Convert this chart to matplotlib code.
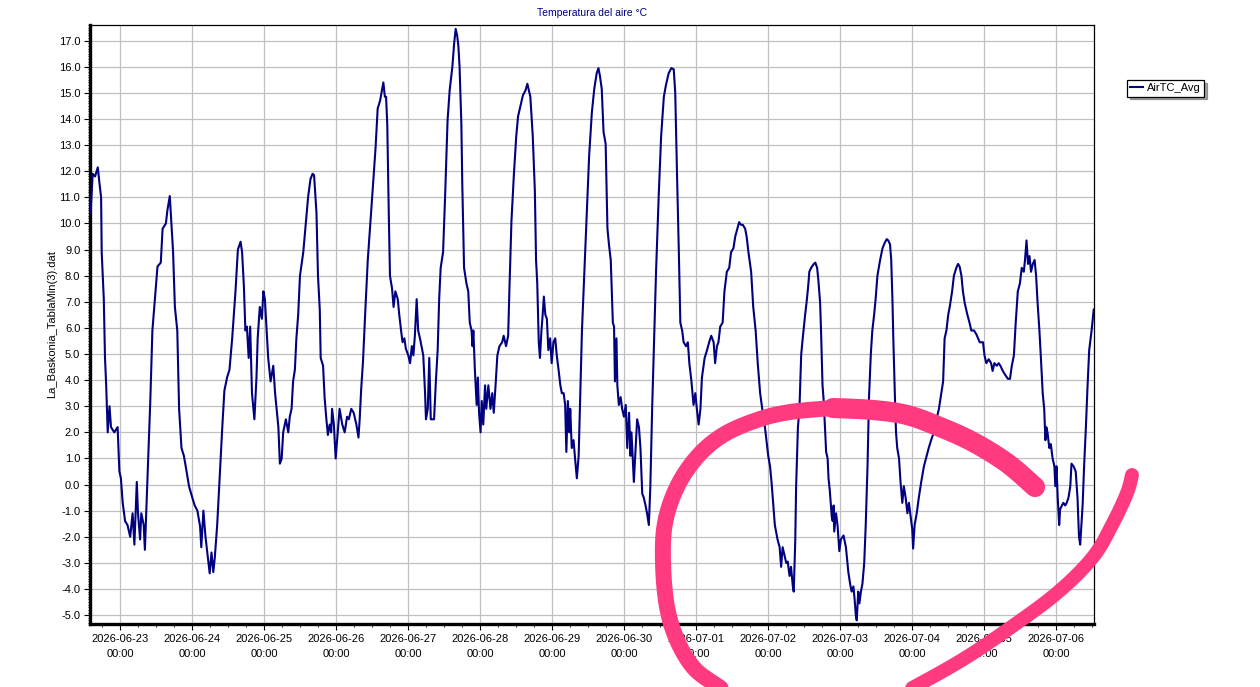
import numpy as np
import pandas as pd
import matplotlib
matplotlib.use("Agg")
import matplotlib.pyplot as plt
import matplotlib.dates as mdates
from matplotlib.ticker import MultipleLocator, FormatStrFormatter
from matplotlib.lines import Line2D

plt.rcParams['font.family'] = ['Liberation Sans', 'DejaVu Sans']

# hours after 2026-06-23 00:00 and air temperature (°C)
start = pd.Timestamp("2026-06-23 00:00")
hours = [
    -9.8, -9.1, -8.3, -7.4, -6.9, -6.3, -6.1, -5.4, -5.0, -4.6, -4.1, -3.5, -3.0, -1.9, -0.8, -0.2,
    0.3, 0.9, 1.7, 2.5, 3.4, 4.2, 4.8, 5.6, 6.0, 6.7, 7.1, 7.9, 8.3, 9.0, 9.4, 10.1,
    10.8, 11.7, 12.5, 13.6, 14.2, 15.3, 15.8, 16.6, 17.1, 17.7, 18.3, 19.1, 19.7, 20.5, 21.3, 22.2,
    23.0, 24.1, 24.9, 25.8, 26.7, 27.1, 27.8, 28.5, 29.3, 29.9, 30.5, 31.1, 31.6, 32.4, 33.2, 34.1,
    34.8, 35.7, 36.5, 37.4, 38.5, 39.3, 40.2, 40.7, 41.3, 41.8, 42.3, 42.9, 43.4, 44.0, 44.8, 45.5,
    45.9, 46.6, 47.3, 47.8, 48.3, 48.9, 49.4, 50.2, 51.1, 51.7, 52.2, 52.8, 53.3, 53.9, 54.4, 55.3,
    56.1, 56.6, 57.2, 57.7, 58.3, 58.8, 59.4, 60.0, 60.5, 61.1, 62.0, 62.7, 63.5, 64.2, 64.7, 65.5,
    66.0, 66.6, 66.9, 67.7, 68.2, 68.8, 69.3, 69.9, 70.4, 70.7, 71.3, 71.9, 72.7, 73.2, 74.1, 74.9,
    75.7, 76.3, 77.1, 77.9, 78.8, 79.5, 79.9, 80.4, 81.0, 81.8, 82.6, 83.4, 84.3, 85.2, 85.9, 86.7,
    87.4, 87.8, 88.3, 88.7, 89.1, 89.6, 90.0, 90.7, 91.2, 91.8, 92.6, 93.1, 93.7, 94.2, 94.8, 95.3,
    96.1, 96.7, 97.3, 97.8, 98.3, 98.9, 99.4, 100.0, 100.5, 101.1, 101.7, 102.0, 102.6, 103.1, 103.6, 104.7,
    105.3, 105.9, 106.4, 106.9, 107.7, 108.4, 109.2, 109.9, 110.8, 111.4, 111.9, 112.4, 112.8, 113.2, 113.8, 114.1,
    114.7, 115.5, 116.1, 116.6, 117.2, 117.5, 117.8, 118.3, 118.9, 119.3, 119.7, 120.2, 120.6, 121.1, 121.7, 122.1,
    122.8, 123.5, 124.1, 124.6, 125.2, 125.8, 126.5, 127.4, 127.9, 128.7, 129.4, 129.8, 130.5, 131.3, 132.1, 132.7,
    133.5, 134.3, 135.2, 135.8, 136.2, 136.8, 137.6, 138.3, 138.7, 139.1, 139.6, 140.0, 140.5, 140.9, 141.3, 141.8,
    142.3, 142.8, 143.4, 143.9, 144.5, 145.1, 145.6, 146.2, 146.8, 147.3, 147.9, 148.4, 148.8, 149.3, 149.8, 150.1,
    150.6, 151.2, 151.7, 152.3, 152.9, 153.4, 154.0, 154.8, 155.6, 156.4, 157.3, 158.1, 158.9, 159.5, 160.0, 160.6,
    161.2, 161.9, 162.5, 163.0, 163.6, 164.3, 164.7, 165.0, 165.5, 165.8, 166.3, 166.9, 167.4, 168.0, 168.6, 169.1,
    169.7, 170.2, 170.5, 170.9, 171.3, 171.9, 172.4, 173.0, 173.5, 174.1, 174.6, 175.2, 175.7, 176.3, 176.8, 177.4,
    178.0, 178.7, 179.6, 180.4, 181.3, 182.0, 182.9, 183.8, 184.6, 185.1, 185.7, 186.3, 186.8, 187.4, 187.9, 188.7,
    189.3, 189.8, 190.5, 191.2, 191.8, 192.3, 192.9, 193.5, 194.0, 194.9, 195.7, 196.4, 197.1, 197.9, 198.4, 199.0,
    199.5, 200.1, 200.9, 201.5, 202.3, 203.1, 203.7, 204.5, 205.1, 205.8, 206.4, 207.0, 207.6, 208.4, 208.9, 209.5,
    210.4, 211.1, 211.9, 212.6, 213.4, 214.1, 215.0, 215.6, 216.1, 216.7, 217.2, 217.8, 218.3, 219.2, 219.9, 220.4,
    220.9, 221.5, 222.1, 222.6, 223.2, 223.7, 224.3, 224.6, 225.1, 225.4, 226.0, 226.5, 227.1, 227.6, 228.4, 229.0,
    229.5, 229.8, 230.4, 231.3, 231.8, 232.4, 232.8, 233.4, 233.7, 234.2, 234.6, 235.0, 235.4, 235.9, 236.2, 236.6,
    237.0, 237.3, 237.6, 237.9, 238.1, 238.7, 239.2, 239.8, 240.3, 241.2, 242.0, 242.8, 243.4, 243.9, 244.5, 244.9,
    245.3, 245.6, 246.1, 246.5, 247.0, 247.5, 248.1, 248.6, 249.2, 249.7, 250.3, 250.8, 251.4, 251.9, 252.5, 253.4,
    254.2, 254.9, 255.6, 256.1, 256.7, 257.1, 257.5, 257.8, 258.3, 258.7, 259.1, 259.7, 260.2, 260.8, 261.3, 261.9,
    262.5, 263.0, 263.6, 264.1, 264.4, 264.9, 265.6, 266.3, 267.1, 268.0, 268.9, 269.6, 270.4, 271.3, 272.2, 273.0,
    274.4, 274.9, 275.5, 276.1, 276.6, 277.4, 278.0, 278.8, 279.4, 279.9, 280.5, 281.0, 281.6, 282.5, 283.2, 283.8,
    284.7, 285.5, 286.6, 287.7, 288.2, 288.8, 289.6, 290.4, 290.9, 291.5, 292.3, 292.9, 293.5, 294.3, 295.1, 296.0,
    296.7, 297.3, 298.0, 298.6, 299.3, 300.0, 300.6, 301.3, 301.7, 302.2, 302.7, 303.2, 303.7, 304.3, 304.9, 305.4,
    305.9, 306.5, 307.0, 307.6, 308.1, 308.5, 308.8, 309.2, 309.8, 310.3, 310.9, 311.5, 311.8, 312.2, 312.6, 313.1,
    313.4, 314.0, 314.5, 315.1, 315.6, 316.2, 316.8, 317.2, 317.9, 318.6, 319.2, 319.7, 320.1, 320.5, 320.9, 321.4,
    322.0, 322.5, 323.1, 323.9, 324.6,
]
air_tc = [
    10.4, 11.9, 11.8, 12.15, 11.6, 11.0, 8.9, 7.1, 4.85, 3.8, 2.0, 3.0, 2.2, 2.0, 2.2, 0.5,
    0.24, -0.7, -1.4, -1.55, -2.0, -1.1, -2.3, 0.1, -1.1, -2.1, -1.1, -1.55, -2.5, -0.2, 1.0, 3.2,
    5.9, 7.2, 8.35, 8.5, 9.8, 10.0, 10.5, 11.05, 10.1, 8.9, 6.8, 5.9, 2.9, 1.4, 1.1, 0.5,
    -0.06, -0.5, -0.8, -1.0, -1.6, -2.4, -1.0, -2.0, -2.8, -3.4, -2.6, -3.35, -2.8, -1.55, 0.24, 2.2,
    3.6, 4.1, 4.4, 5.6, 7.4, 9.0, 9.3, 8.9, 7.6, 5.9, 6.05, 4.85, 6.05, 3.5, 2.5, 4.1,
    5.6, 6.8, 6.35, 7.4, 7.1, 5.9, 4.85, 3.95, 4.55, 3.5, 2.9, 2.2, 0.8, 1.0, 2.0, 2.5,
    2.0, 2.6, 2.9, 3.95, 4.4, 5.6, 6.5, 8.0, 8.4, 8.9, 10.1, 11.0, 11.7, 11.9, 11.85, 10.4,
    8.0, 6.7, 4.85, 4.55, 3.35, 2.5, 1.9, 2.3, 2.0, 2.9, 2.3, 1.0, 2.2, 2.9, 2.3, 2.0,
    2.6, 2.5, 2.9, 2.75, 2.3, 1.8, 2.5, 3.65, 4.7, 6.7, 8.6, 9.9, 11.4, 12.9, 14.4, 14.7,
    15.15, 15.4, 14.85, 14.85, 13.8, 10.4, 8.0, 7.5, 6.8, 7.4, 7.1, 6.5, 5.9, 5.45, 5.6, 5.2,
    4.95, 4.65, 5.3, 4.95, 5.7, 7.1, 5.9, 5.6, 5.3, 4.95, 3.5, 2.5, 2.9, 4.85, 2.5, 2.5,
    3.95, 5.15, 7.1, 8.3, 8.9, 11.1, 13.95, 15.1, 16.0, 16.9, 17.45, 17.2, 16.8, 16.0, 13.8, 11.55,
    8.3, 7.7, 7.4, 6.2, 5.9, 5.3, 5.9, 4.4, 3.05, 4.1, 2.75, 2.0, 3.2, 2.3, 3.8, 2.9,
    3.8, 2.9, 3.5, 2.75, 3.8, 4.95, 5.3, 5.45, 5.7, 5.3, 5.7, 7.4, 10.1, 11.85, 13.35, 14.1,
    14.5, 14.9, 15.1, 15.35, 15.15, 14.85, 13.35, 11.25, 8.6, 7.7, 5.45, 4.85, 5.9, 6.5, 7.2, 6.5,
    6.35, 5.15, 5.6, 4.65, 5.45, 5.6, 4.95, 4.4, 3.8, 3.5, 3.5, 3.05, 1.25, 3.2, 2.0, 2.9,
    1.4, 1.7, 1.0, 0.24, 1.1, 3.35, 5.9, 8.15, 10.4, 12.6, 14.25, 15.15, 15.75, 15.95, 15.65, 15.15,
    13.5, 13.05, 9.8, 9.2, 8.6, 6.2, 6.05, 3.95, 5.6, 3.8, 3.05, 3.35, 2.9, 2.6, 3.05, 1.4,
    2.75, 1.1, 2.0, 1.1, 0.1, 1.4, 2.5, 2.2, 1.4, -0.35, -0.5, -0.8, -1.1, -1.55, -0.06, 2.9,
    5.3, 8.15, 11.1, 13.35, 14.85, 15.3, 15.75, 15.95, 15.9, 15.0, 11.85, 8.9, 6.2, 5.9, 5.45, 5.3,
    5.45, 4.65, 3.95, 3.05, 3.5, 2.9, 2.3, 2.9, 4.1, 4.85, 5.15, 5.45, 5.7, 5.45, 4.65, 5.3,
    5.45, 6.05, 6.2, 7.4, 8.15, 8.3, 8.9, 9.05, 9.5, 9.8, 10.05, 9.95, 9.95, 9.8, 9.5, 8.9,
    8.15, 6.8, 5.9, 4.65, 3.5, 2.9, 2.2, 1.6, 1.1, 0.7, 0.1, -0.8, -1.55, -2.1, -2.4, -3.15,
    -2.4, -2.7, -3.0, -2.95, -3.5, -3.15, -3.9, -4.1, -2.2, -0.06, 2.2, 2.9, 5.0, 5.6, 6.5, 7.1,
    7.7, 8.15, 8.3, 8.45, 8.5, 8.3, 7.85, 6.95, 5.9, 3.8, 3.2, 2.2, 1.25, 1.0, 0.24, -0.2,
    -0.8, -1.25, -1.4, -0.8, -1.8, -1.1, -1.55, -2.55, -2.1, -1.95, -2.4, -3.35, -3.8, -4.1, -3.9, -4.4,
    -5.0, -5.2, -4.1, -4.55, -4.1, -3.8, -3.0, -1.55, 0.7, 3.35, 5.0, 5.9, 6.5, 7.1, 8.0, 8.6,
    9.05, 9.25, 9.4, 9.35, 9.2, 8.6, 7.1, 5.6, 3.5, 2.0, 1.4, 1.0, 0.1, -0.7, -0.06, -0.5,
    -1.1, -0.7, -1.25, -1.7, -2.45, -1.55, -1.1, -0.5, 0.1, 0.7, 1.1, 1.4, 1.7, 2.0, 2.5, 2.9,
    3.95, 5.6, 5.9, 6.5, 6.8, 7.4, 8.0, 8.3, 8.45, 8.35, 8.0, 7.4, 6.95, 6.5, 6.2, 5.9,
    5.9, 5.75, 5.45, 5.45, 4.95, 4.65, 4.8, 4.65, 4.35, 4.65, 4.55, 4.65, 4.55, 4.35, 4.2, 4.05,
    4.05, 4.55, 4.95, 6.2, 7.4, 7.7, 8.3, 8.15, 8.6, 9.35, 8.45, 8.75, 8.15, 8.45, 8.6, 8.0,
    6.95, 5.9, 4.85, 3.5, 2.9, 1.7, 2.2, 2.0, 1.4, 1.55, 1.0, 0.7, -0.06, 0.7, -0.5, -1.55,
    -0.95, -0.8, -0.7, -0.8, -0.7, -0.5, -0.06, 0.8, 0.7, 0.5, -0.5, -2.0, -2.3, -1.55, -0.8, 0.7,
    2.2, 3.65, 5.15, 5.9, 6.7,
]
series_name = "AirTC_Avg"
title = "Temperatura del aire °C"
ylabel = "La_Baskonia_TablaMin(3).dat"

times = start + pd.to_timedelta(hours, unit="h")

W, H = 1260, 687
fig = plt.figure(figsize=(W / 100, H / 100), dpi=100)
ax = fig.add_axes([90 / W, 1 - 624 / H, 1004 / W, 599 / H])

ax.plot(times, air_tc, color="#000080", lw=1.5, label=series_name, zorder=3)

ax.set_xlim(start + pd.Timedelta(hours=-10), start + pd.Timedelta(hours=324.7))
ax.set_ylim(-5.34, 17.6)

ax.xaxis.set_major_locator(mdates.DayLocator())
ax.xaxis.set_minor_locator(mdates.HourLocator(byhour=[6, 12, 18]))
ax.xaxis.set_major_formatter(mdates.DateFormatter("%Y-%m-%d\n%H:%M"))
ax.yaxis.set_major_locator(MultipleLocator(1.0))
ax.yaxis.set_minor_locator(MultipleLocator(0.1))
ax.yaxis.set_major_formatter(FormatStrFormatter("%.1f"))

ax.grid(True, which="major", color="#c0c0c0", lw=0.9)
ax.set_axisbelow(True)
ax.tick_params(which="major", direction="out", length=4, width=0.8, labelsize=8, colors="black", pad=3)
ax.tick_params(which="minor", direction="out", length=2, width=0.6)
ax.tick_params(axis="y", which="minor", length=1.5)
for lab in ax.get_xticklabels():
    lab.set_linespacing(1.6)

for side in ["left", "bottom"]:
    ax.spines[side].set_linewidth(2.4)
for side in ["top", "right"]:
    ax.spines[side].set_linewidth(0.9)

fig.text(592 / W, 1 - 13 / H, title, ha="center", va="center", fontsize=7.5, color="#000080")
fig.text(52 / W, 1 - 324 / H, ylabel, ha="center", va="center", rotation=90, fontsize=8)

leg = ax.legend(loc="upper left", bbox_to_anchor=(1127 / W, 1 - 80 / H), bbox_transform=fig.transFigure,
                borderaxespad=0, fancybox=False, shadow=True, edgecolor="black", framealpha=1,
                fontsize=8, handlelength=1.1, handletextpad=0.4, borderpad=0.3)
leg.get_frame().set_linewidth(0.9)


# hand-drawn pink marker stroke over the picture (figure pixels, from top-left)
def smooth(pts, n=12):
    p = np.array(pts, dtype=float)
    p = np.vstack([p[0], p, p[-1]])
    out = []
    t = np.linspace(0, 1, n, endpoint=False)[:, None]
    for i in range(1, len(p) - 2):
        p0, p1, p2, p3 = p[i - 1], p[i], p[i + 1], p[i + 2]
        out.append(0.5 * (2 * p1 + (-p0 + p2) * t + (2 * p0 - 5 * p1 + 4 * p2 - p3) * t ** 2
                          + (-p0 + 3 * p1 - 3 * p2 + p3) * t ** 3))
    out.append(p[-2][None, :])
    return np.vstack(out)


strokes = [
    ([(1035, 487), (1007, 463), (973, 442), (940, 427), (907, 415), (873, 410), (833, 408)], 14.5),
    ([(833, 408), (790, 412), (757, 420), (723, 435), (697, 457), (677, 487), (665, 523), (663, 563),
      (667, 607), (677, 640), (693, 667), (713, 683), (740, 700)], 11.5),
    ([(890, 700), (957, 663), (1007, 630), (1057, 593), (1093, 557), (1113, 523), (1127, 493), (1132, 475)], 10),
]
for pts, lw in strokes:
    s = smooth(pts)
    fig.add_artist(Line2D(s[:, 0] / W, 1 - s[:, 1] / H, transform=fig.transFigure, color="#ff3a80",
                          lw=lw, solid_capstyle="round", solid_joinstyle="round", zorder=20))

fig.savefig("out.png", dpi=100)
